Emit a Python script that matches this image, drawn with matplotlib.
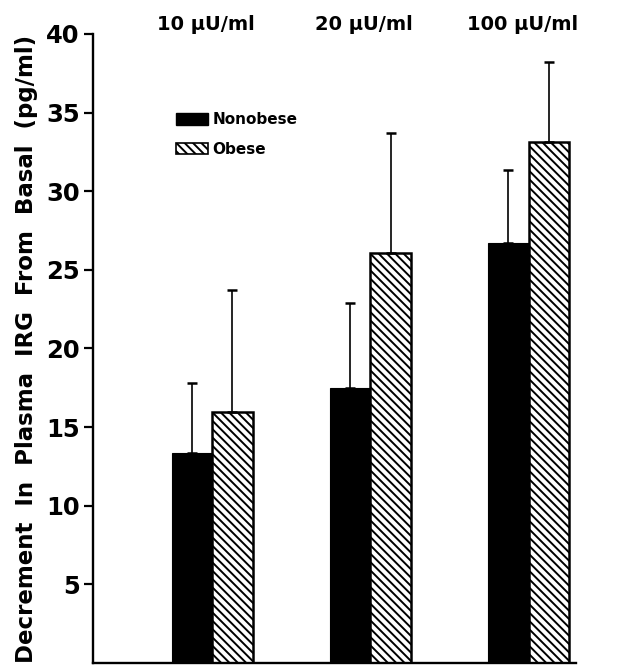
import matplotlib

matplotlib.use("Agg")

import matplotlib.pyplot as plt
import numpy as np
from matplotlib.patches import Patch

# values (pg/ml)
doses = ["10 \u03bcU/ml", "20 \u03bcU/ml", "100 \u03bcU/ml"]
nonobese = [13.35, 17.5, 26.7]
nonobese_err = [4.45, 5.4, 4.65]
obese = [15.95, 26.1, 33.1]
obese_err = [7.75, 7.6, 5.1]
yticks = [5, 10, 15, 20, 25, 30, 35, 40]

plt.rcParams["hatch.linewidth"] = 1.4
plt.rcParams["font.family"] = ["DejaVu Sans"]

fig = plt.figure(figsize=(6.41, 6.65), dpi=100)
ax = fig.add_axes([0.1451, 0.003, 0.7535, 0.9459])

x = np.arange(len(doses))
w = 0.256
hatch = "\\" * 4

err_kw = dict(ecolor="black", elinewidth=1.2, capsize=3.5, capthick=1.8)
ax.bar(x - w / 2, nonobese, w, color="black", edgecolor="black", linewidth=0.8,
       yerr=[np.zeros(3), nonobese_err], error_kw=err_kw)
ax.bar(x + w / 2, obese, w, color="white", edgecolor="black", linewidth=1.8,
       hatch=hatch, yerr=[np.zeros(3), obese_err], error_kw=err_kw)

for xi, lab in zip(x, doses):
    ax.text(xi - 0.04, 1.0, lab, transform=ax.get_xaxis_transform(),
            ha="center", va="bottom", fontsize=14, fontweight="bold")

ax.set_xlim(-0.753, 2.30)
ax.set_ylim(0, 40)
ax.set_yticks(yticks)
ax.set_yticklabels([str(t) for t in yticks], fontsize=17.5, fontweight="bold")
ax.set_xticks([])
ax.tick_params(axis="y", direction="out", length=6.5, width=1.6, pad=3)

for side in ("top", "right"):
    ax.spines[side].set_visible(False)
ax.spines["left"].set_linewidth(1.7)
ax.spines["bottom"].set_linewidth(1.7)

ax.set_ylabel("Decrement  In  Plasma  IRG  From  Basal  (pg/ml)",
              fontsize=16.5, fontweight="bold", labelpad=6)

handles = [
    Patch(facecolor="black", edgecolor="black", label="Nonobese"),
    Patch(facecolor="white", edgecolor="black", hatch=hatch, linewidth=1.2, label="Obese"),
]
ax.legend(handles=handles, loc="upper left", bbox_to_anchor=(0.16, 0.885),
          frameon=False, prop={"size": 11, "weight": "bold"},
          handlelength=2.1, handleheight=0.8, handletextpad=0.25,
          labelspacing=0.95, borderaxespad=0)

fig.savefig("out.png", dpi=100)
